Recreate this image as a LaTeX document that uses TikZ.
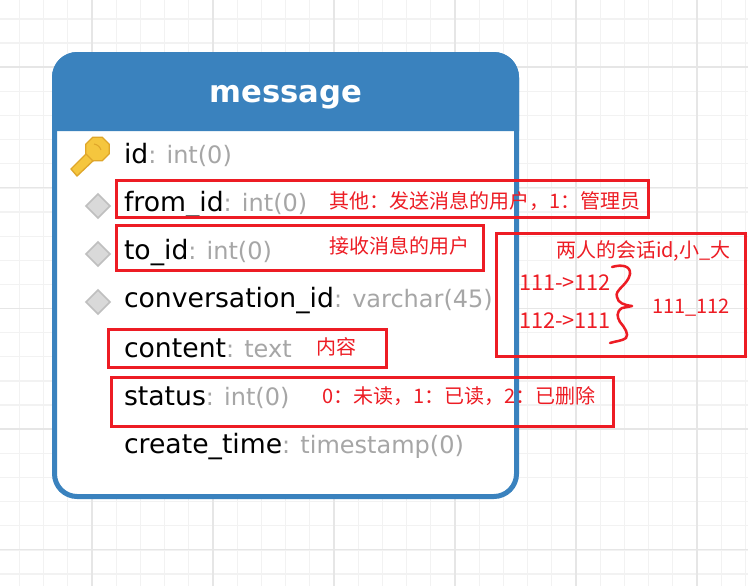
\documentclass[tikz,border=0pt]{standalone}
\usepackage{fontspec}
\usepackage{tikz}
\usetikzlibrary{shapes.geometric}
\setmainfont{DejaVu Sans}
\newfontfamily\cjkfont{Noto Sans CJK SC}
\definecolor{CardBlue}{HTML}{3A82BE}
\definecolor{NoteRed}{HTML}{ED1C24}
\definecolor{TypeGray}{HTML}{A6A6A6}
\definecolor{GridLight}{HTML}{F2F2F2}
\definecolor{GridDark}{HTML}{E6E6E6}
\definecolor{KeyGold}{HTML}{F5C63E}
\definecolor{KeyEdge}{HTML}{DFA62A}
\begin{document}
\begin{tikzpicture}[x=0.75pt,y=-0.75pt]
  \tikzset{FieldStyle/.style = {
    anchor        = base west,
    inner sep     = 0pt,
    outer sep     = 0pt,
    text          = black,
    font          = \fontsize{20}{22}\selectfont
    }
  }
  \tikzset{NoteStyle/.style = {
    anchor        = base west,
    inner sep     = 0pt,
    outer sep     = 0pt,
    text          = NoteRed,
    font          = \fontsize{15}{17}\selectfont\cjkfont
    }
  }
  \tikzset{NumberStyle/.style = {
    NoteStyle,
    font          = \fontsize{16.3}{17}\selectfont\cjkfont
    }
  }
  \tikzset{MarkBoxStyle/.style = {
    shape         = rectangle,
    draw          = NoteRed,
    line width    = 2.25pt,
    inner sep     = 0pt,
    outer sep     = 0pt,
    anchor        = north west
    }
  }
  \tikzset{FkStyle/.style = {
    shape         = diamond,
    draw          = black!25,
    fill          = black!15,
    line width    = 1.2pt,
    inner sep     = 0pt,
    outer sep     = 0pt,
    minimum size  = 18pt
    }
  }
  \newcommand{\tp}[1]{\textcolor{TypeGray}{\fontsize{18}{22}\selectfont #1}}

  \useasboundingbox (0,0) rectangle (748,586);
  \fill[white] (0,0) rectangle (748,586);

  \foreach \gx in {0,...,30} \draw[GridLight, line width=1pt] ({19.4+24.2*\gx},0) -- ({19.4+24.2*\gx},586);
  \foreach \gy in {0,...,23} \draw[GridLight, line width=1pt] (0,{19+24.13*\gy}) -- (748,{19+24.13*\gy});
  \foreach \gx in {0,...,5} \draw[GridDark, line width=1pt] ({92+121*\gx},0) -- ({92+121*\gx},586);
  \foreach \gy in {0,...,4} \draw[GridDark, line width=1pt] (0,{67+120.65*\gy}) -- (748,{67+120.65*\gy});

  \node[draw=CardBlue, fill=white, line width=3.75pt, rounded corners=17pt,
    minimum width=346.5pt, minimum height=331.5pt, inner sep=0pt, outer sep=0pt, anchor=north west](card) at (54.5,54.5) {};
  \fill[CardBlue] (52,131) -- (52,78) .. controls (52,63) and (63,52) .. (78,52) -- (493,52)
    .. controls (508,52) and (519,63) .. (519,78) -- (519,131) -- cycle;

  \node[anchor=base, inner sep=0pt, text=white, font=\fontsize{23}{26}\selectfont\bfseries](title) at (286,102) {message};

  \draw[KeyEdge, fill=KeyGold, line width=1pt] (71,169) -- (89,151) -- (96,158) -- (77,176) -- cycle;
  \node[shape=regular polygon, regular polygon sides=8, draw=KeyEdge, fill=KeyGold, line width=1pt,
    minimum size=19pt, inner sep=0pt](keyicon) at (97.5,149) {};
  \draw[KeyEdge, line width=0.8pt] (94,144) to[bend left=30] (101,150);

  \node[FkStyle](fk1) at (98,206) {};
  \node[FkStyle](fk2) at (98,254) {};
  \node[FkStyle](fk3) at (98,302) {};

  \node[FieldStyle](f1) at (124,163) {id\tp{: int(0)}};
  \node[FieldStyle](f2) at (124,211) {from\_id\tp{: int(0)}};
  \node[FieldStyle](f3) at (124,259) {to\_id\tp{: int(0)}};
  \node[FieldStyle](f4) at (124,307) {conversation\_id\tp{: varchar(45)}};
  \node[FieldStyle](f5) at (124,357) {content\tp{: text}};
  \node[FieldStyle](f6) at (124,405) {status\tp{: int(0)}};
  \node[FieldStyle](f7) at (124,453) {create\_time\tp{: timestamp(0)}};

  \node[MarkBoxStyle, minimum width=399pt, minimum height=27.75pt](box1) at (116,180) {};
  \node[MarkBoxStyle, minimum width=275.25pt, minimum height=33.75pt](box2) at (116,225) {};
  \node[MarkBoxStyle, minimum width=186.75pt, minimum height=92.25pt](box3) at (496,233) {};
  \node[MarkBoxStyle, minimum width=208.5pt, minimum height=28.5pt](box4) at (108,329) {};
  \node[MarkBoxStyle, minimum width=376.5pt, minimum height=37pt](box5) at (111,377) {};

  \node[NoteStyle](n1) at (329,208) {其他：发送消息的用户，1：管理员};
  \node[NoteStyle](n2) at (329,253) {接收消息的用户};
  \node[NoteStyle](n3) at (556,257) {两人的会话id,小\_大};
  \node[NumberStyle](n4) at (519,290) {111->112};
  \node[NumberStyle](n5) at (519,328) {112->111};
  \node[NoteStyle](n6) at (652,313) {111\_112};
  \node[NoteStyle](n7) at (316,354) {内容};
  \node[NoteStyle](n8) at (322,403) {0：未读，1：已读，2：已删除};

  \draw[NoteRed, line width=1.9pt, line cap=round, line join=round]
    (612,267) .. controls (622,264) and (631,266) .. (630,274)
    .. controls (628,285) and (614,290) .. (617,297)
    .. controls (618,303) and (624,305) .. (632,306)
    -- (622,308)
    .. controls (616,312) and (617,317) .. (620,322)
    .. controls (625,328) and (629,334) .. (626,338)
    .. controls (622,341) and (616,341) .. (610,343);
\end{tikzpicture}
\end{document}
